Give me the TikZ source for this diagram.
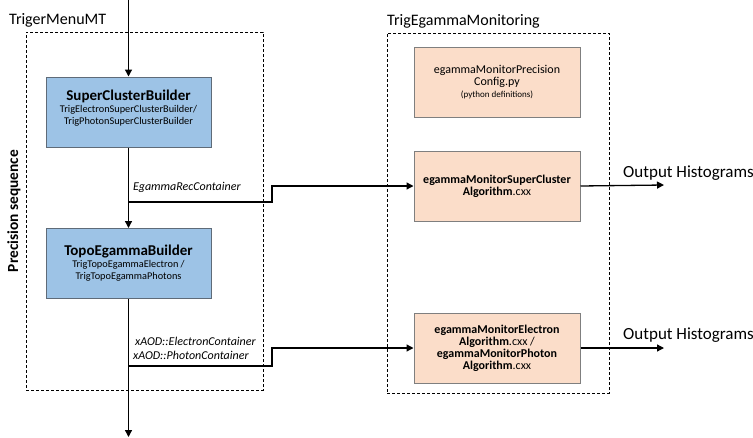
\documentclass[tikz,border=0pt]{standalone}
\usepackage{fontspec}
\setmainfont{Carlito}
\usetikzlibrary{arrows.meta}
\definecolor{bluefill}{HTML}{9DC3E6}
\definecolor{blueline}{HTML}{5F6B78}
\definecolor{orfill}{HTML}{FBDDC9}
\definecolor{orline}{HTML}{7F7F7F}
\tikzset{
  arr/.style={line width=1.3pt,-{Triangle[length=7pt,width=7pt]}},
  dbox/.style={draw,dashed,line width=0.6pt,dash pattern=on 3pt off 2pt},
  bluebox/.style={draw=blueline,fill=bluefill,line width=1pt,minimum width=165pt,minimum height=70pt,align=center,inner sep=0pt},
  orbox/.style={draw=orline,fill=orfill,line width=1pt,minimum width=166pt,minimum height=70pt,align=center,inner sep=0pt},
  lab/.style={font=\fontsize{16}{18}\selectfont,inner sep=0pt},
  outlab/.style={font=\fontsize{17}{19}\selectfont,inner sep=0pt},
  clab/.style={font=\fontsize{12}{13.5}\selectfont\itshape,inner sep=0pt,align=left},
  intext/.style={align=center,inner sep=0pt},
}
\begin{document}
\begin{tikzpicture}[x=1pt,y=-1pt]
\useasboundingbox (0,0) rectangle (753,437);
% dashed containers
\node[dbox,minimum width=237pt,minimum height=358pt,inner sep=0pt] (left) at (144.5,211) {};
\node[dbox,minimum width=222pt,minimum height=360pt,inner sep=0pt] (right) at (498,213) {};
\node[lab,anchor=west] (tmenu) at (9,20) {TrigerMenuMT};
\node[lab,anchor=west] (tmon) at (387,21) {TrigEgammaMonitoring};
\node[font=\fontsize{15.4}{17}\selectfont\bfseries,rotate=90,inner sep=0pt] (prec) at (14,211) {Precision sequence};
% builders
\node[bluebox] (scb) at (128.5,112) {};
\node[intext] (scbt) at ([yshift=4pt]scb.center) {{\fontsize{15}{18}\selectfont\bfseries SuperClusterBuilder}\\[0pt]
{\fontsize{10.3}{12.5}\selectfont TrigElectronSuperClusterBuilder/}\\
{\fontsize{10.3}{12.5}\selectfont TrigPhotonSuperClusterBuilder}};
\node[bluebox] (teb) at (128.5,263.5) {{\fontsize{15}{18}\selectfont\bfseries TopoEgammaBuilder}\\[0pt]
{\fontsize{10.3}{12.5}\selectfont TrigTopoEgammaElectron /}\\
{\fontsize{10.3}{12.5}\selectfont TrigTopoEgammaPhotons}};
% monitoring boxes
\node[orbox] (cfg) at (497,82) {{\fontsize{12}{15}\selectfont egammaMonitorPrecision}\\
{\fontsize{12}{15}\selectfont Config.py}\\
{\fontsize{9}{10}\selectfont (python definitions)}};
\node[orbox] (scm) at (497,186) {{\fontsize{12}{15.5}\selectfont\bfseries egammaMonitorSuperCluster}\\
{\fontsize{12}{15.5}\selectfont\textbf{Algorithm}.cxx}};
\node[orbox] (elm) at (497,348) {{\fontsize{12}{15}\selectfont\bfseries egammaMonitorElectron}\\
{\fontsize{12}{15}\selectfont\textbf{Algorithm}.cxx /}\\
{\fontsize{12}{15}\selectfont\bfseries egammaMonitorPhoton}\\
{\fontsize{12}{15}\selectfont\textbf{Algorithm}.cxx}};
% outputs
\node[outlab,anchor=west] (out1) at (623,173) {Output Histograms};
\node[outlab,anchor=west] (out2) at (623,335) {Output Histograms};
\coordinate (o1) at (664,185);
\coordinate (o2) at (664,348);
% main flow
\coordinate (top) at (128.5,0);
\coordinate (bot) at (128.5,437);
\draw[arr] (top) -- (scb.north);
\draw[arr] (scb.south) -- (teb.north);
\draw[arr] (teb.south) -- (bot);
% side connectors
\coordinate (j1) at (128.5,202);
\coordinate (s1a) at (272,202);
\coordinate (s1b) at (272,186);
\draw[arr] (j1) -- (s1a) -- (s1b) -- (scm.west);
\coordinate (j2) at (128.5,366);
\coordinate (s2a) at (272,366);
\coordinate (s2b) at (272,348);
\draw[arr] (j2) -- (s2a) -- (s2b) -- (elm.west);
\node[clab,anchor=west] (l1) at (133,187) {EgammaRecContainer};
\node[clab,anchor=west] (l2) at (133,348.5) {\,xAOD::ElectronContainer\\xAOD::PhotonContainer};
\draw[arr] (scm.east) -- (o1);
\draw[arr] (elm.east) -- (o2);
\end{tikzpicture}
\end{document}
